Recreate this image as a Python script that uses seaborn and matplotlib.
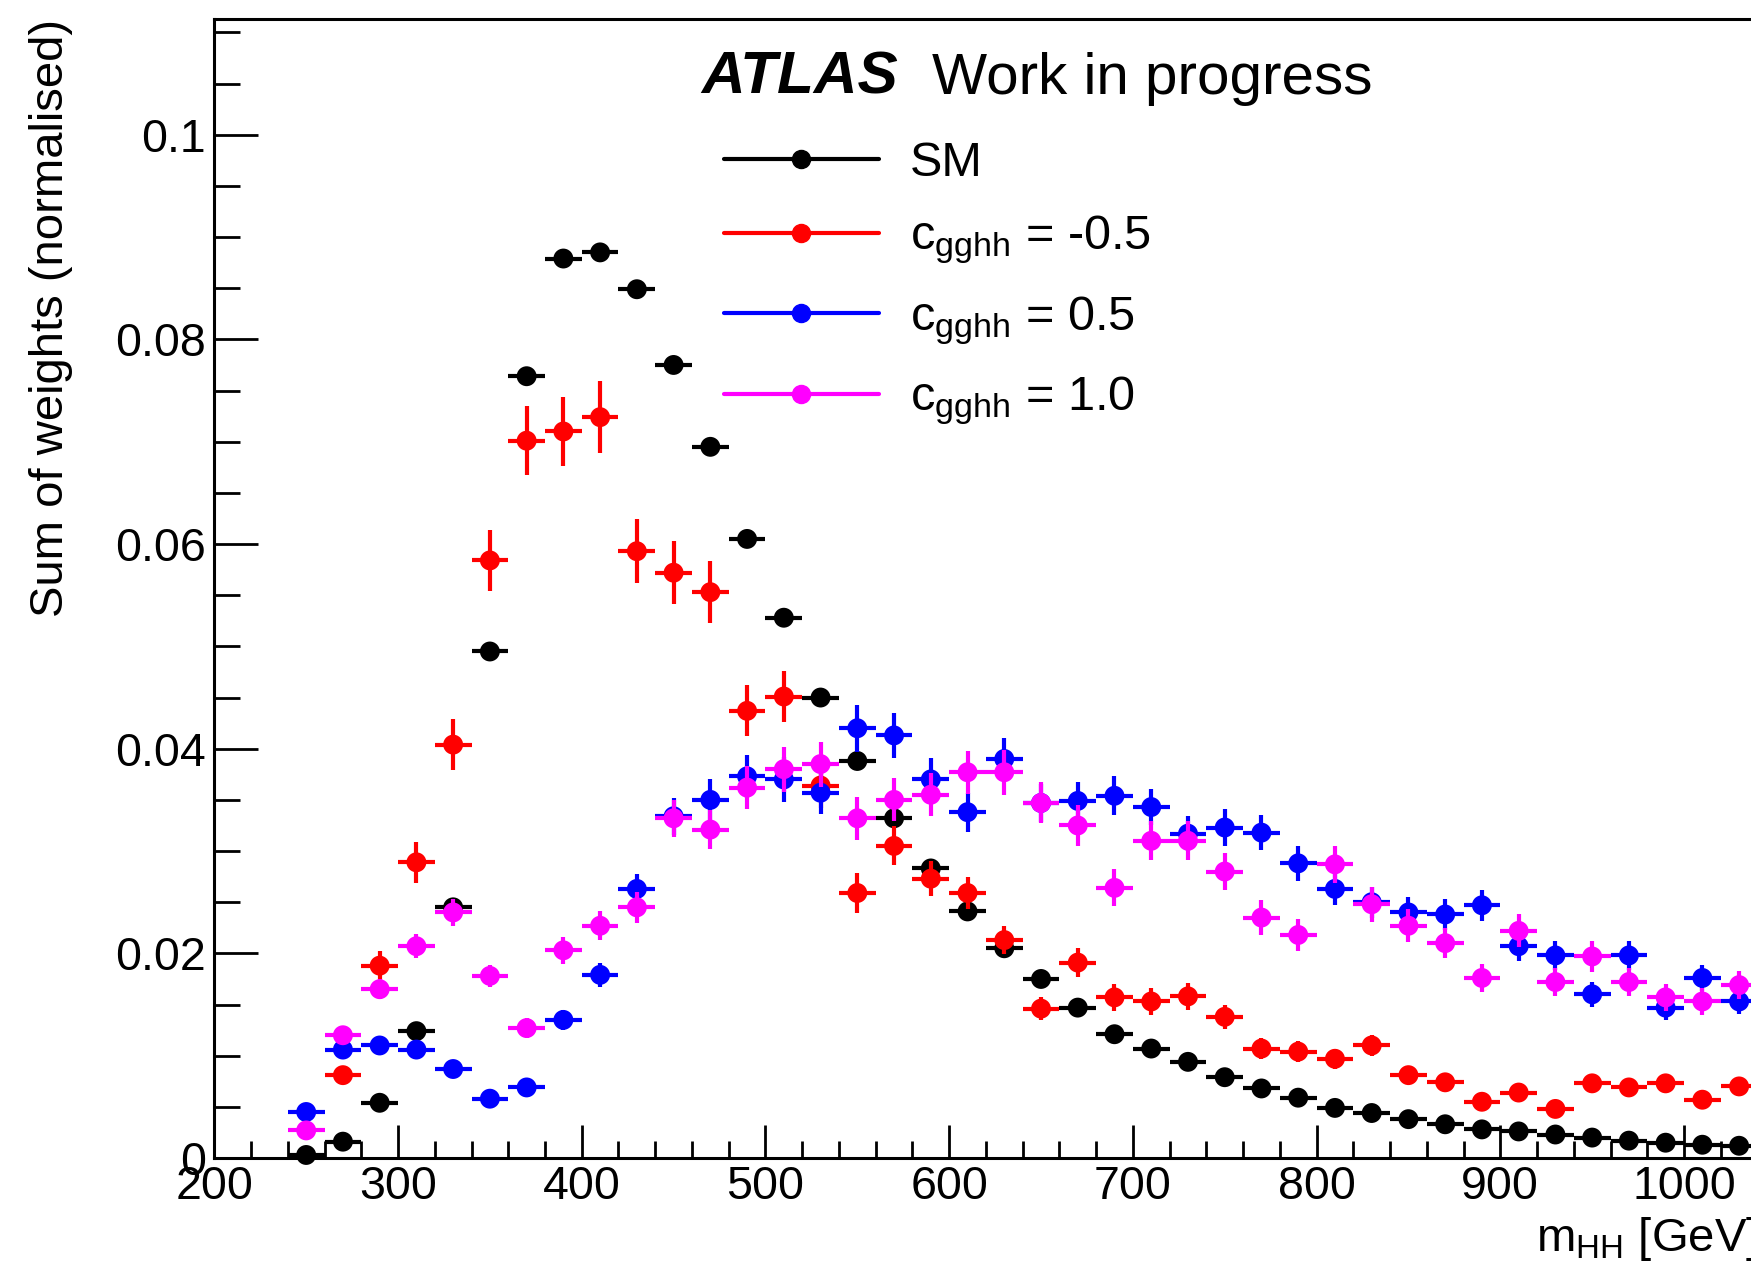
import numpy as np
import pandas as pd
import matplotlib
matplotlib.use("Agg")
import matplotlib.pyplot as plt
from matplotlib.lines import Line2D
from matplotlib.ticker import MultipleLocator, FuncFormatter
import seaborn as sns

# bin centres (20 GeV bins)
mhh = [250, 270, 290, 310, 330, 350, 370, 390, 410, 430,
       450, 470, 490, 510, 530, 550, 570, 590, 610, 630,
       650, 670, 690, 710, 730, 750, 770, 790, 810, 830,
       850, 870, 890, 910, 930, 950, 970, 990, 1010, 1030]
half_bin = 10

sm = [0.0003, 0.0016, 0.0054, 0.0124, 0.0245, 0.0495, 0.0764, 0.0879, 0.0885, 0.0849,
      0.0775, 0.0695, 0.0605, 0.0528, 0.0450, 0.0388, 0.0332, 0.0283, 0.0241, 0.0205,
      0.0175, 0.0147, 0.0121, 0.0107, 0.0094, 0.0079, 0.0068, 0.0059, 0.0049, 0.0044,
      0.0038, 0.0033, 0.0028, 0.0026, 0.0023, 0.0020, 0.0017, 0.0015, 0.0013, 0.0012]

cm05 = [0.0, 0.0081, 0.0188, 0.0289, 0.0404, 0.0584, 0.0701, 0.0710, 0.0724, 0.0593,
        0.0572, 0.0553, 0.0437, 0.0451, 0.0364, 0.0259, 0.0305, 0.0273, 0.0259, 0.0213,
        0.0146, 0.0191, 0.0157, 0.0153, 0.0158, 0.0138, 0.0107, 0.0104, 0.0097, 0.0110,
        0.0081, 0.0074, 0.0055, 0.0064, 0.0048, 0.0073, 0.0069, 0.0073, 0.0057, 0.0070]
cm05_err = [0.0, 0.0008, 0.0014, 0.0020, 0.0025, 0.0030, 0.0034, 0.0034, 0.0035, 0.0031,
            0.0031, 0.0030, 0.0025, 0.0025, 0.0022, 0.0020, 0.0019, 0.0017, 0.0016, 0.0014,
            0.0011, 0.0014, 0.0013, 0.0013, 0.0013, 0.0012, 0.0010, 0.0010, 0.0010, 0.0010,
            0.0008, 0.0007, 0.0006, 0.0007, 0.0006, 0.0007, 0.0006, 0.0007, 0.0006, 0.0007]

cp05 = [0.0045, 0.0106, 0.0110, 0.0106, 0.0087, 0.0058, 0.0069, 0.0135, 0.0179, 0.0263,
        0.0334, 0.0350, 0.0373, 0.0370, 0.0357, 0.0420, 0.0413, 0.0370, 0.0338, 0.0390,
        0.0347, 0.0349, 0.0354, 0.0343, 0.0317, 0.0323, 0.0318, 0.0288, 0.0263, 0.0250,
        0.0240, 0.0238, 0.0247, 0.0207, 0.0198, 0.0160, 0.0198, 0.0147, 0.0176, 0.0153]
cp05_err = [0.0005, 0.0008, 0.0008, 0.0008, 0.0007, 0.0006, 0.0006, 0.0010, 0.0012, 0.0015,
            0.0018, 0.0020, 0.0021, 0.0022, 0.0021, 0.0023, 0.0022, 0.0021, 0.0019, 0.0020,
            0.0019, 0.0018, 0.0019, 0.0018, 0.0017, 0.0018, 0.0017, 0.0017, 0.0016, 0.0015,
            0.0015, 0.0015, 0.0015, 0.0014, 0.0014, 0.0012, 0.0014, 0.0012, 0.0013, 0.0012]

cp10 = [0.0027, 0.0120, 0.0165, 0.0207, 0.0240, 0.0178, 0.0127, 0.0203, 0.0227, 0.0245,
        0.0332, 0.0321, 0.0362, 0.0380, 0.0385, 0.0332, 0.0350, 0.0355, 0.0377, 0.0377,
        0.0347, 0.0325, 0.0264, 0.0310, 0.0310, 0.0280, 0.0235, 0.0218, 0.0287, 0.0248,
        0.0227, 0.0210, 0.0176, 0.0222, 0.0172, 0.0197, 0.0172, 0.0157, 0.0153, 0.0169]
cp10_err = [0.0005, 0.0009, 0.0010, 0.0012, 0.0013, 0.0011, 0.0010, 0.0013, 0.0014, 0.0015,
            0.0018, 0.0019, 0.0021, 0.0022, 0.0022, 0.0021, 0.0021, 0.0021, 0.0021, 0.0022,
            0.0020, 0.0020, 0.0018, 0.0019, 0.0019, 0.0018, 0.0017, 0.0016, 0.0018, 0.0017,
            0.0016, 0.0015, 0.0014, 0.0016, 0.0014, 0.0015, 0.0014, 0.0013, 0.0013, 0.0014]

names = ["SM", "cm05", "cp05", "cp10"]
labels = ["SM",
          r"$\mathrm{c}_{\mathrm{gghh}}$ = -0.5",
          r"$\mathrm{c}_{\mathrm{gghh}}$ = 0.5",
          r"$\mathrm{c}_{\mathrm{gghh}}$ = 1.0"]
colors = ["black", "#ff0000", "#0000ff", "#ff00ff"]

rows = []
for name, vals, errs in [("SM", sm, [0.0] * len(sm)), ("cm05", cm05, cm05_err),
                         ("cp05", cp05, cp05_err), ("cp10", cp10, cp10_err)]:
    for x, v, e in zip(mhh, vals, errs):
        rows.append((name, x, v, e))
df = pd.DataFrame(rows, columns=["sample", "mhh", "w", "err"])

sns.set_style("ticks")
plt.rcParams['font.family'] = ['Liberation Sans', 'DejaVu Sans']
plt.rcParams['mathtext.fontset'] = 'custom'
plt.rcParams['mathtext.rm'] = 'Liberation Sans'
plt.rcParams['mathtext.it'] = 'Liberation Sans:italic'
plt.rcParams['mathtext.bf'] = 'Liberation Sans:bold'
for k in ['text.color', 'axes.labelcolor', 'xtick.color', 'ytick.color', 'axes.edgecolor']:
    plt.rcParams[k] = 'black'

fig = plt.figure(figsize=(17.51, 12.63), dpi=100)
ax = fig.add_axes([0.1224, 0.0831, 0.8813, 0.9018])

for i, name in enumerate(names):
    # empty bins are not drawn (as in ROOT)
    d = df[(df["sample"] == name) & (df["w"] > 0)]
    yerr = None if name == "SM" else d["err"].values
    ax.errorbar(d["mhh"], d["w"], xerr=half_bin, yerr=yerr, fmt='none',
                ecolor=colors[i], elinewidth=3.0, capsize=0, zorder=2 + 2 * i,
                clip_on=False)
    sns.scatterplot(data=d, x="mhh", y="w", color=colors[i], s=205,
                    edgecolor='none', linewidth=0, zorder=3 + 2 * i, ax=ax,
                    legend=False, clip_on=False)

ax.set_xlim(200, 1040)
ax.set_ylim(0, 0.1113)
ax.xaxis.set_major_locator(MultipleLocator(100))
ax.xaxis.set_minor_locator(MultipleLocator(20))
ax.yaxis.set_major_locator(MultipleLocator(0.02))
ax.yaxis.set_minor_locator(MultipleLocator(0.005))
ax.yaxis.set_major_formatter(FuncFormatter(lambda v, p: f"{v:g}"))

for s in ax.spines.values():
    s.set_linewidth(2.2)
ax.tick_params(axis='both', which='both', direction='in', top=False, right=False,
               width=2.0, labelsize=33.5)
ax.tick_params(axis='x', which='major', length=24, pad=5)
ax.tick_params(axis='x', which='minor', length=12)
ax.tick_params(axis='y', which='major', length=32, pad=6)
ax.tick_params(axis='y', which='minor', length=18.5)

ax.set_xlabel(r"$\mathrm{m}_{\mathrm{HH}}$ [GeV]", fontsize=34, loc='right')
ax.xaxis.set_label_coords(1.0, -0.0816)
ax.xaxis.label.set_va('baseline')
ax.set_ylabel("Sum of weights (normalised)", fontsize=34, loc='top')
ax.yaxis.set_label_coords(-0.0917, 1.0)

ax.text(0.3153, 0.9345, "ATLAS", transform=ax.transAxes, fontsize=43.5,
        fontweight='bold', fontstyle='italic', va='baseline')
ax.text(0.465, 0.9345, "Work in progress", transform=ax.transAxes, fontsize=42,
        va='baseline')

handles = [Line2D([], [], color=c, marker='o', markersize=13, lw=3.0) for c in colors]
ax.legend(handles, labels, loc='upper left', bbox_to_anchor=(0.330, 0.893),
          frameon=False, fontsize=35, handlelength=3.2, handletextpad=0.64,
          labelspacing=0.57, borderpad=0, borderaxespad=0)

plt.savefig("out.png", dpi=100)
